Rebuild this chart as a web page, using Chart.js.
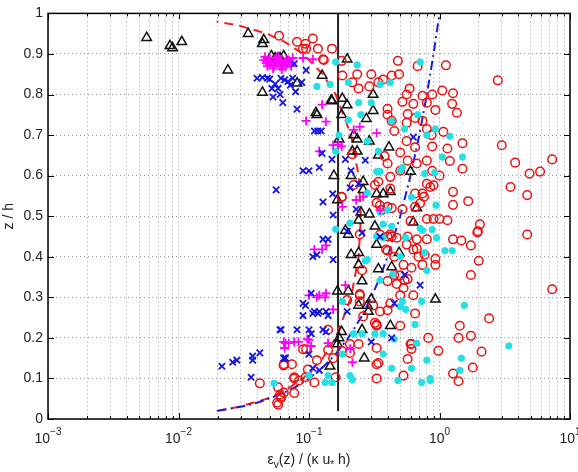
<!DOCTYPE html>
<html>
<head>
<meta charset="utf-8">
<script src="https://cdn.jsdelivr.net/npm/chart.js@4"></script>
<style>
  html, body { margin: 0; padding: 0; background: #fff; }
  #wrap { width: 578px; height: 472px; }
</style>
</head>
<body>
<div id="wrap"><canvas id="chart" width="578" height="472"></canvas></div>
<script>
// x = eps_v(z)/(kappa u* h), y = z/h

const xDecades = [0.001, 0.01, 0.1, 1, 10];
const xExponents = ["-3", "-2", "-1", "0", "1"];
const yTickLabels = ["0", "0.1", "0.2", "0.3", "0.4", "0.5", "0.6", "0.7", "0.8", "0.9", "1"];

// black triangles
const triPts = [
    [0.0057,0.94],[0.0086,0.92],[0.009,0.915],[0.0106,0.93],[0.0239,0.86],[0.0342,0.95],[0.044,0.925],[0.045,0.935],
    [0.044,0.805],[0.0515,0.895],[0.06,0.89],[0.064,0.895],[0.081,0.828],[0.126,0.847],[0.148,0.786],[0.113,0.755],
    [0.196,0.887],[0.15,0.784],[0.18,0.79],[0.196,0.774],[0.31,0.80],[0.31,0.76],[0.178,0.75],[0.275,0.74],
    [0.17,0.69],[0.22,0.70],[0.234,0.69],[0.29,0.685],[0.215,0.66],[0.234,0.66],[0.41,0.67],[0.34,0.65],
    [0.155,0.6],[0.21,0.6],[0.6,0.61],[0.26,0.585],[0.26,0.565],[0.33,0.555],[0.37,0.555],[0.42,0.56],
    [0.165,0.54],[0.25,0.51],[0.29,0.505],[0.67,0.52],[0.63,0.485],[0.24,0.49],[0.32,0.475],[0.19,0.465],
    [0.2,0.455],[0.21,0.405],[0.24,0.41],[0.24,0.38],[0.33,0.43],[0.49,0.41],[0.34,0.37],[0.43,0.375],
    [0.255,0.34],[0.165,0.315],[0.2,0.315],[0.3,0.295],[0.24,0.28],[0.28,0.28],[0.285,0.265],[0.93,0.295],
    [0.42,0.23],[0.255,0.22],[0.17,0.2],[0.178,0.215],[0.265,0.15],[0.145,0.13],[0.165,0.185],[0.115,0.75],
    [0.055,0.89],[0.057,0.888]
];

// blue x
const crossPts = [
    [0.04,0.84],[0.048,0.84],[0.055,0.826],[0.061,0.84],[0.069,0.832],[0.072,0.823],[0.053,0.794],[0.06,0.8],
    [0.063,0.78],[0.079,0.807],[0.077,0.876],[0.081,0.764],[0.058,0.815],[0.052,0.815],[0.117,0.71],[0.11,0.71],
    [0.124,0.71],[0.056,0.565],[0.126,0.655],[0.09,0.612],[0.1,0.612],[0.12,0.62],[0.128,0.535],[0.152,0.555],
    [0.128,0.443],[0.14,0.443],[0.107,0.4],[0.115,0.405],[0.15,0.64],[0.19,0.64],[0.27,0.638],[0.21,0.612],
    [0.207,0.57],[0.24,0.58],[0.63,0.695],[0.23,0.517],[0.153,0.503],[0.09,0.285],[0.11,0.265],[0.12,0.265],
    [0.135,0.265],[0.14,0.255],[0.1,0.22],[0.061,0.22],[0.104,0.21],[0.196,0.265],[0.3,0.19],[0.43,0.2],
    [0.45,0.285],[0.71,0.33],[0.54,0.355],[0.065,0.15],[0.1,0.16],[0.12,0.12],[0.104,0.31],[0.094,0.28],
    [0.09,0.255],[0.107,0.26],[0.117,0.26],[0.06,0.22],[0.081,0.22],[0.128,0.22],[0.0215,0.13],[0.026,0.14],
    [0.028,0.145],[0.037,0.145],[0.037,0.155],[0.042,0.163],[0.036,0.103],[0.066,0.15],[0.107,0.125],[0.135,0.215],
    [0.064,0.15],[0.088,0.83],[0.095,0.86],[0.196,0.463],[0.255,0.459],[0.153,0.393],[0.35,0.45],
    [0.044,0.842],[0.05,0.838],[0.065,0.836],[0.075,0.84]
];

// magenta +
const plusPts = [
    [0.045,0.885],[0.05,0.875],[0.055,0.88],[0.06,0.87],[0.065,0.88],[0.07,0.885],[0.05,0.89],[0.058,0.895],
    [0.068,0.875],[0.075,0.89],[0.048,0.87],[0.062,0.862],[0.09,0.89],[0.107,0.887],[0.126,0.775],[0.135,0.733],
    [0.095,0.735],[0.22,0.713],[0.245,0.72],[0.33,0.705],[0.153,0.675],[0.167,0.677],[0.178,0.672],[0.12,0.66],
    [0.23,0.54],[0.26,0.548],[0.35,0.515],[0.18,0.523],[0.11,0.418],[0.126,0.418],[0.135,0.428],[0.1,0.305],
    [0.12,0.305],[0.135,0.31],[0.077,0.19],[0.097,0.197],[0.104,0.18],[0.153,0.27],[0.207,0.173],[0.19,0.33],
    [0.215,0.14],[0.115,0.3],[0.133,0.3],[0.066,0.187],[0.07,0.187],[0.065,0.175],[0.1,0.195],[0.14,0.187],
    [0.064,0.19],[0.083,0.19],
    [0.047,0.878],[0.052,0.882],[0.054,0.87],[0.057,0.877],[0.059,0.885],[0.063,0.873],[0.066,0.868],[0.072,0.878],
    [0.053,0.864],[0.056,0.89],[0.061,0.882],[0.067,0.886],[0.046,0.893],[0.073,0.87]
];

// cyan *
const starPts = [
    [0.054,0.088],[0.1,0.107],[0.133,0.09],[0.14,0.107],[0.16,0.88],[0.234,0.873],[0.115,0.82],[0.145,0.825],
    [0.2,0.83],[0.24,0.78],[0.3,0.78],[0.35,0.825],[0.42,0.83],[0.71,0.88],[0.2,0.737],[0.43,0.735],
    [0.68,0.75],[0.93,0.715],[1.2,0.697],[0.17,0.7],[0.8,0.7],[0.54,0.715],[1.05,0.646],[1.5,0.646],
    [0.52,0.62],[0.33,0.61],[0.35,0.61],[0.77,0.605],[0.92,0.608],[0.28,0.685],[0.35,0.51],[0.61,0.547],
    [0.94,0.527],[0.4,0.515],[0.74,0.465],[0.88,0.467],[0.37,0.48],[0.95,0.447],[1.1,0.415],[1.25,0.415],
    [1.55,0.28],[3.4,0.18],[1.47,0.15],[1.43,0.12],[0.85,0.095],[0.34,0.66],[0.5,0.612],[0.28,0.557],
    [0.71,0.47],[0.43,0.475],[0.55,0.447],[0.206,0.483],[0.16,0.468],[0.33,0.45],[0.28,0.393],[0.27,0.39],
    [0.77,0.41],[0.5,0.4],[0.44,0.357],[0.35,0.342],[0.8,0.366],[0.37,0.447],[0.18,0.29],[0.5,0.277],
    [0.52,0.29],[0.55,0.27],[0.65,0.233],[0.73,0.29],[0.22,0.21],[0.255,0.21],[0.32,0.21],[0.37,0.21],
    [0.45,0.197],[0.37,0.16],[0.18,0.16],[0.206,0.107],[0.215,0.097],[0.43,0.125],[0.61,0.125],[0.48,0.095],
    [0.73,0.09],[0.85,0.1],[0.8,0.145],[0.67,0.187],[0.15,0.09],[0.16,0.66],[0.25,0.75]
];

// red o
const circlePts = [
    [0.059,0.945],[0.081,0.93],[0.094,0.925],[0.095,0.913],[0.107,0.938],[0.117,0.913],[0.13,0.885],[0.15,0.913],
    [0.09,0.913],[0.128,0.887],[0.178,0.883],[0.48,0.883],[0.68,0.87],[1.12,0.872],[0.234,0.85],[0.3,0.85],
    [0.18,0.847],[0.37,0.837],[0.43,0.847],[0.49,0.85],[0.215,0.83],[0.24,0.815],[0.29,0.82],[0.34,0.83],
    [0.59,0.815],[0.56,0.8],[0.74,0.797],[0.88,0.8],[1.05,0.81],[1.27,0.803],[1.25,0.777],[1.36,0.755],
    [0.52,0.782],[0.63,0.777],[0.8,0.78],[0.93,0.762],[0.4,0.765],[0.4,0.75],[0.57,0.752],[0.65,0.742],
    [0.43,0.735],[0.56,0.73],[0.74,0.735],[0.8,0.715],[0.87,0.7],[1.07,0.708],[0.56,0.685],[0.65,0.67],
    [0.88,0.672],[1.15,0.667],[1.5,0.68],[3.0,0.675],[2.8,0.835],[3.8,0.632],[4.9,0.605],[5.9,0.61],
    [7.3,0.64],[3.5,0.572],[4.7,0.552],[1.2,0.636],[1.5,0.617],[1.27,0.56],[1.66,0.537],[1.27,0.528],
    [2.04,0.48],[1.97,0.463],[1.15,0.49],[1.0,0.493],[0.9,0.493],[0.8,0.493],[0.6,0.488],[0.71,0.532],
    [0.76,0.548],[0.9,0.576],[1.0,0.6],[0.8,0.58],[0.65,0.556],[0.88,0.612],[0.8,0.637],[0.67,0.63],
    [0.57,0.637],[0.5,0.612],[0.4,0.63],[0.42,0.597],[0.42,0.568],[0.32,0.577],[0.33,0.533],[0.4,0.523],
    [0.52,0.517],[0.65,0.523],[0.178,0.547],[0.245,0.455],[0.35,0.455],[0.42,0.455],[0.57,0.45],[0.45,0.71],
    [0.22,0.577],[0.215,0.653],[0.38,0.648],[0.5,0.657],[0.35,0.527],[0.36,0.515],[0.43,0.52],[0.34,0.585],
    [0.74,0.556],[0.85,0.572],[0.4,0.415],[0.43,0.45],[0.255,0.367],[0.5,0.354],[0.63,0.418],[0.69,0.4],
    [0.57,0.345],[0.178,0.548],
    [0.4,0.45],[0.47,0.447],[0.67,0.443],[0.8,0.443],[1.27,0.443],[1.47,0.44],[1.74,0.428],[1.95,0.46],
    [4.7,0.455],[2.0,0.39],[1.74,0.355],[0.93,0.395],[0.93,0.38],[0.77,0.405],[0.74,0.38],[0.67,0.42],
    [0.56,0.43],[0.39,0.418],[0.45,0.4],[0.53,0.38],[0.61,0.373],[0.4,0.34],[0.45,0.355],[0.54,0.342],
    [0.47,0.333],[0.53,0.323],[0.63,0.305],[0.5,0.305],[0.42,0.285],[0.31,0.28],[0.35,0.265],[0.4,0.268],
    [0.245,0.308],[0.245,0.29],[0.196,0.293],[0.26,0.253],[0.32,0.237],[0.33,0.23],[0.5,0.23],[0.65,0.26],
    [0.82,0.2],[0.98,0.168],[1.4,0.2],[1.74,0.205],[1.43,0.23],[2.4,0.248],[2.1,0.166],[1.8,0.127],
    [1.27,0.112],[1.4,0.093],[0.61,0.185],[0.61,0.173],[0.57,0.148],[0.33,0.135],[0.53,0.107],[0.33,0.1],
    [7.3,0.32],[0.074,0.135],[0.064,0.135],[0.09,0.172],[0.094,0.103],[0.077,0.103],[0.077,0.064],[0.061,0.055],
    [0.16,0.103],[0.153,0.15],[0.178,0.168],[0.206,0.185],[0.245,0.305],[0.33,0.233],[0.6,0.185],[0.206,0.163],
    [0.24,0.185],[0.33,0.175],[0.34,0.138],
    [0.042,0.088],[0.058,0.078],[0.06,0.06],[0.058,0.035],[0.064,0.065],[0.077,0.1],[0.084,0.095],[0.11,0.09],
    [0.095,0.172],[0.115,0.145],[0.14,0.22],[0.14,0.17],[0.098,0.122],[0.057,0.04],[0.061,0.052],[0.064,0.132]
];

// red dashed profile
const profileX = [0.0196,0.0291,0.0475,0.0651,0.09,0.1275,0.16,0.21,0.24,0.25,0.24,0.21,0.16,0.1275,0.09,0.0651,0.0475,0.0291,0.0196];
const profileZ = [0.02,0.03,0.05,0.07,0.1,0.15,0.2,0.3,0.4,0.5,0.6,0.7,0.8,0.85,0.9,0.93,0.95,0.97,0.98];

// blue dash-dot profile
const linearX = [0.02,0.03,0.04,0.06,0.08,0.1,0.13,0.16,0.2,0.25,0.3,0.35,0.4,0.5,0.6,0.7,0.8,0.9,1.0];
const linearZ = [0.02,0.03,0.04,0.06,0.08,0.1,0.13,0.16,0.2,0.25,0.3,0.35,0.4,0.5,0.6,0.7,0.8,0.9,1.0];

// black vertical (depth mean)
const meanX = [0.167, 0.167];
const meanZ = [0.02, 1.0];

function toXY(pts) {
    return pts.map(p => ({ x: p[0], y: p[1] }));
}

function zip(xs, zs) {
    return xs.map((x, i) => ({ x: x, y: zs[i] }));
}

const FONT = "Liberation Sans, Arial, Helvetica, sans-serif";

const axesPlugin = {
    id: "axesPlugin",
    afterDraw(chart) {
        const ctx = chart.ctx;
        const a = chart.chartArea;
        const xs = chart.scales.x;
        const ys = chart.scales.y;

        ctx.save();
        ctx.strokeStyle = "#000";
        ctx.lineWidth = 1;

        // inward ticks
        ctx.beginPath();
        xs.ticks.forEach(t => {
            const px = Math.round(xs.getPixelForValue(t.value)) + 0.5;
            const major = xDecades.includes(t.value);
            const len = major ? 6 : 3;
            ctx.moveTo(px, a.bottom); ctx.lineTo(px, a.bottom - len);
            ctx.moveTo(px, a.top); ctx.lineTo(px, a.top + len);
        });
        ys.ticks.forEach(t => {
            const py = Math.round(ys.getPixelForValue(t.value)) + 0.5;
            ctx.moveTo(a.left, py); ctx.lineTo(a.left + 6, py);
            ctx.moveTo(a.right, py); ctx.lineTo(a.right - 6, py);
        });
        ctx.stroke();

        // frame
        ctx.lineWidth = 1.5;
        ctx.strokeRect(a.left, a.top, a.right - a.left, a.bottom - a.top);

        // x tick labels 10^n
        ctx.fillStyle = "#222";
        ctx.textBaseline = "alphabetic";
        xDecades.forEach((v, i) => {
            const px = xs.getPixelForValue(v);
            ctx.font = "14px " + FONT;
            const wBase = ctx.measureText("10").width;
            ctx.font = "10px " + FONT;
            const wExp = ctx.measureText(xExponents[i].replace("-", "\u2212")).width;
            const left = px - (wBase + wExp) / 2;
            ctx.font = "14px " + FONT;
            ctx.textAlign = "left";
            ctx.fillText("10", left, a.bottom + 24);
            ctx.font = "10px " + FONT;
            ctx.fillText(xExponents[i].replace("-", "\u2212"), left + wBase, a.bottom + 16);
        });

        // x title with subscripts
        const parts = [
            { t: "\u03b5", sub: false },
            { t: "v", sub: true },
            { t: "(z) / (\u03ba u", sub: false },
            { t: "*", sub: true },
            { t: " h)", sub: false }
        ];
        let total = 0;
        parts.forEach(p => {
            ctx.font = (p.sub ? "10px " : "14px ") + FONT;
            p.w = ctx.measureText(p.t).width;
            total += p.w;
        });
        let cx = (a.left + a.right) / 2 - total / 2;
        const baseY = a.bottom + 45;
        parts.forEach(p => {
            ctx.font = (p.sub ? "10px " : "14px ") + FONT;
            ctx.fillText(p.t, cx, p.sub ? baseY + 4 : baseY);
            cx += p.w;
        });

        // y title
        ctx.translate(13, (a.top + a.bottom) / 2);
        ctx.rotate(-Math.PI / 2);
        ctx.textAlign = "center";
        ctx.font = "14px " + FONT;
        ctx.fillText("z / h", 0, 0);
        ctx.restore();
    }
};

const ctx = document.getElementById("chart").getContext("2d");

new Chart(ctx, {
    type: "scatter",
    data: {
        datasets: [
            {
                label: "x",
                data: toXY(crossPts),
                pointStyle: "crossRot",
                pointRadius: 4.5,
                borderColor: "#1414e6",
                backgroundColor: "#1414e6",
                pointBorderWidth: 1.8
            },
            {
                label: "+",
                data: toXY(plusPts),
                pointStyle: "cross",
                pointRadius: 4.5,
                borderColor: "#ff00ff",
                backgroundColor: "#ff00ff",
                pointBorderWidth: 1.8
            },
            {
                label: "*",
                data: toXY(starPts),
                pointStyle: "circle",
                pointRadius: 3.2,
                borderColor: "#22e0e6",
                backgroundColor: "#22e0e6",
                pointBorderWidth: 1
            },
            {
                label: "o",
                data: toXY(circlePts),
                pointStyle: "circle",
                pointRadius: 4.3,
                borderColor: "#ee1111",
                backgroundColor: "rgba(0,0,0,0)",
                pointBorderWidth: 1.5
            },
            {
                label: "tri",
                data: toXY(triPts),
                pointStyle: "triangle",
                pointRadius: 5.5,
                borderColor: "#111",
                backgroundColor: "rgba(0,0,0,0)",
                pointBorderWidth: 1.5
            },
            {
                label: "linear",
                data: zip(linearX, linearZ),
                showLine: true,
                pointRadius: 0,
                borderColor: "#1a1ae0",
                borderWidth: 2,
                borderDash: [9, 4, 2, 4]
            },
            {
                label: "parabolic",
                data: zip(profileX, profileZ),
                showLine: true,
                pointRadius: 0,
                borderColor: "#ee2222",
                borderWidth: 2,
                borderDash: [9, 6]
            },
            {
                label: "mean",
                data: zip(meanX, meanZ),
                showLine: true,
                pointRadius: 0,
                borderColor: "#222",
                borderWidth: 2
            }
        ]
    },
    options: {
        responsive: false,
        animation: false,
        events: [],
        layout: { padding: { top: 7, right: 8, left: 0, bottom: 0 } },
        plugins: {
            legend: { display: false },
            tooltip: { enabled: false }
        },
        scales: {
            x: {
                type: "logarithmic",
                min: 0.001,
                max: 10,
                afterBuildTicks: scale => {
                    const ticks = [];
                    xDecades.forEach((d, i) => {
                        if (i === xDecades.length - 1) {
                            ticks.push({ value: d });
                        } else {
                            for (let k = 1; k < 10; k++) ticks.push({ value: d * k });
                        }
                    });
                    scale.ticks = ticks;
                },
                afterFit: scale => { scale.height = 53; },
                ticks: { display: false, autoSkip: false },
                grid: { color: "rgba(0,0,0,0.4)", lineWidth: 1, drawTicks: false },
                border: { display: false, dash: [1, 3] }
            },
            y: {
                min: 0,
                max: 1,
                afterFit: scale => { scale.width = 48; },
                ticks: {
                    stepSize: 0.1,
                    padding: 5,
                    color: "#222",
                    font: { size: 14, family: FONT },
                    callback: (v, i) => yTickLabels[i]
                },
                grid: { color: "rgba(0,0,0,0.4)", lineWidth: 1, drawTicks: false },
                border: { display: false, dash: [1, 3] }
            }
        }
    },
    plugins: [axesPlugin]
});
</script>
</body>
</html>
